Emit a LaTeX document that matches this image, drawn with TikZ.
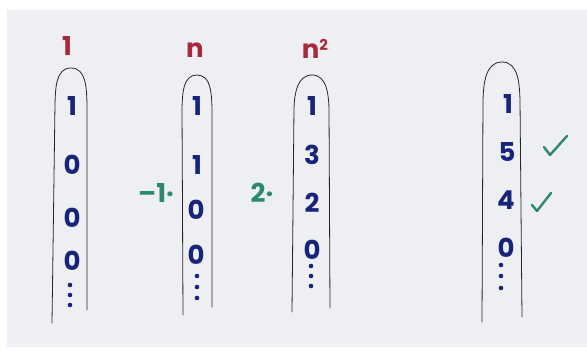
\documentclass[tikz,border=0pt]{standalone}
\usepackage{fontspec}
\setmainfont{Poppins}
\usepackage{tikz}
\usetikzlibrary{positioning}

\definecolor{boardgray}{HTML}{EDEFF3}
\definecolor{markred}{HTML}{A8283C}
\definecolor{markblue}{HTML}{18237A}
\definecolor{markgreen}{HTML}{2E8870}

\begin{document}
\begin{tikzpicture}[
x=1pt, y=-1pt,
every node/.style={font=\fontsize{26}{26}\selectfont\bfseries, inner sep=0pt},
entry/.style={text=markblue},
heading/.style={text=markred},
factor/.style={text=markgreen},
tube/.style={draw=black!85, line width=0.8pt, line cap=round},
tick/.style={draw=markgreen, line width=2.4pt, line cap=round, line join=round},
dots/.style={circle, fill=markblue, minimum size=4.6pt}
]

\fill[white] (0,0) rectangle (587,356);
\fill[boardgray] (7,10) rectangle (587,347);
\useasboundingbox (0,0) rectangle (587,356);

% column 1
\node[heading] (h1) at (67,46) {1};
\draw[tube] (52,323) -- (55,104) to[out=88,in=180] (71,68) to[out=0,in=92] (87,104) -- (87,310);
\node[entry] (a1) at (72,106) {1};
\node[entry] (a2) at (72,165) {0};
\node[entry] (a3) at (72,218) {0};
\node[entry] (a4) at (72,261) {0};
\foreach \y in {285,295,305} {
\node[dots] at (70,\y) {};
}

% column 2
\node[heading] (h2) at (195,50) {n};
\draw[tube] (183,315) -- (182,108) to[out=88,in=180] (197,75) to[out=0,in=92] (212,108) -- (212,307);
\node[entry] (b1) at (197,106) {1};
\node[entry] (b2) at (197,165) {1};
\node[entry] (b3) at (196,210) {0};
\node[entry] (b4) at (196,255) {0};
\foreach \y in {276,287,298} {
\node[dots] at (197,\y) {};
}
\node[factor] (f1) at (156,193) {–1·};

% column 3
\node[heading] (h3) at (315,49) {n\raisebox{0.6ex}{\fontsize{15}{15}\selectfont 2}};
\draw[tube] (292,312) -- (294,108) to[out=88,in=180] (312,75) to[out=0,in=92] (329,108) -- (330,308);
\node[entry] (c1) at (312,106) {1};
\node[entry] (c2) at (312,155) {3};
\node[entry] (c3) at (312,203) {2};
\node[entry] (c4) at (312,250) {0};
\foreach \y in {266,276,286} {
\node[dots] at (311,\y) {};
}
\node[factor] (f2) at (262,193) {2·};

% column 4
\draw[tube] (482,322) -- (483,100) to[out=88,in=180] (502,62) to[out=0,in=92] (520,100) -- (522,317);
\node[entry] (d1) at (508,104) {1};
\node[entry] (d2) at (507,152) {5};
\node[entry] (d3) at (506,200) {4};
\node[entry] (d4) at (506,248) {0};
\foreach \y in {265,276,288} {
\node[dots] at (501,\y) {};
}
\draw[tick] (544,147) -- (550,155) -- (567,136);
\draw[tick] (532,205) -- (537,211) -- (551,193);

\end{tikzpicture}
\end{document}
